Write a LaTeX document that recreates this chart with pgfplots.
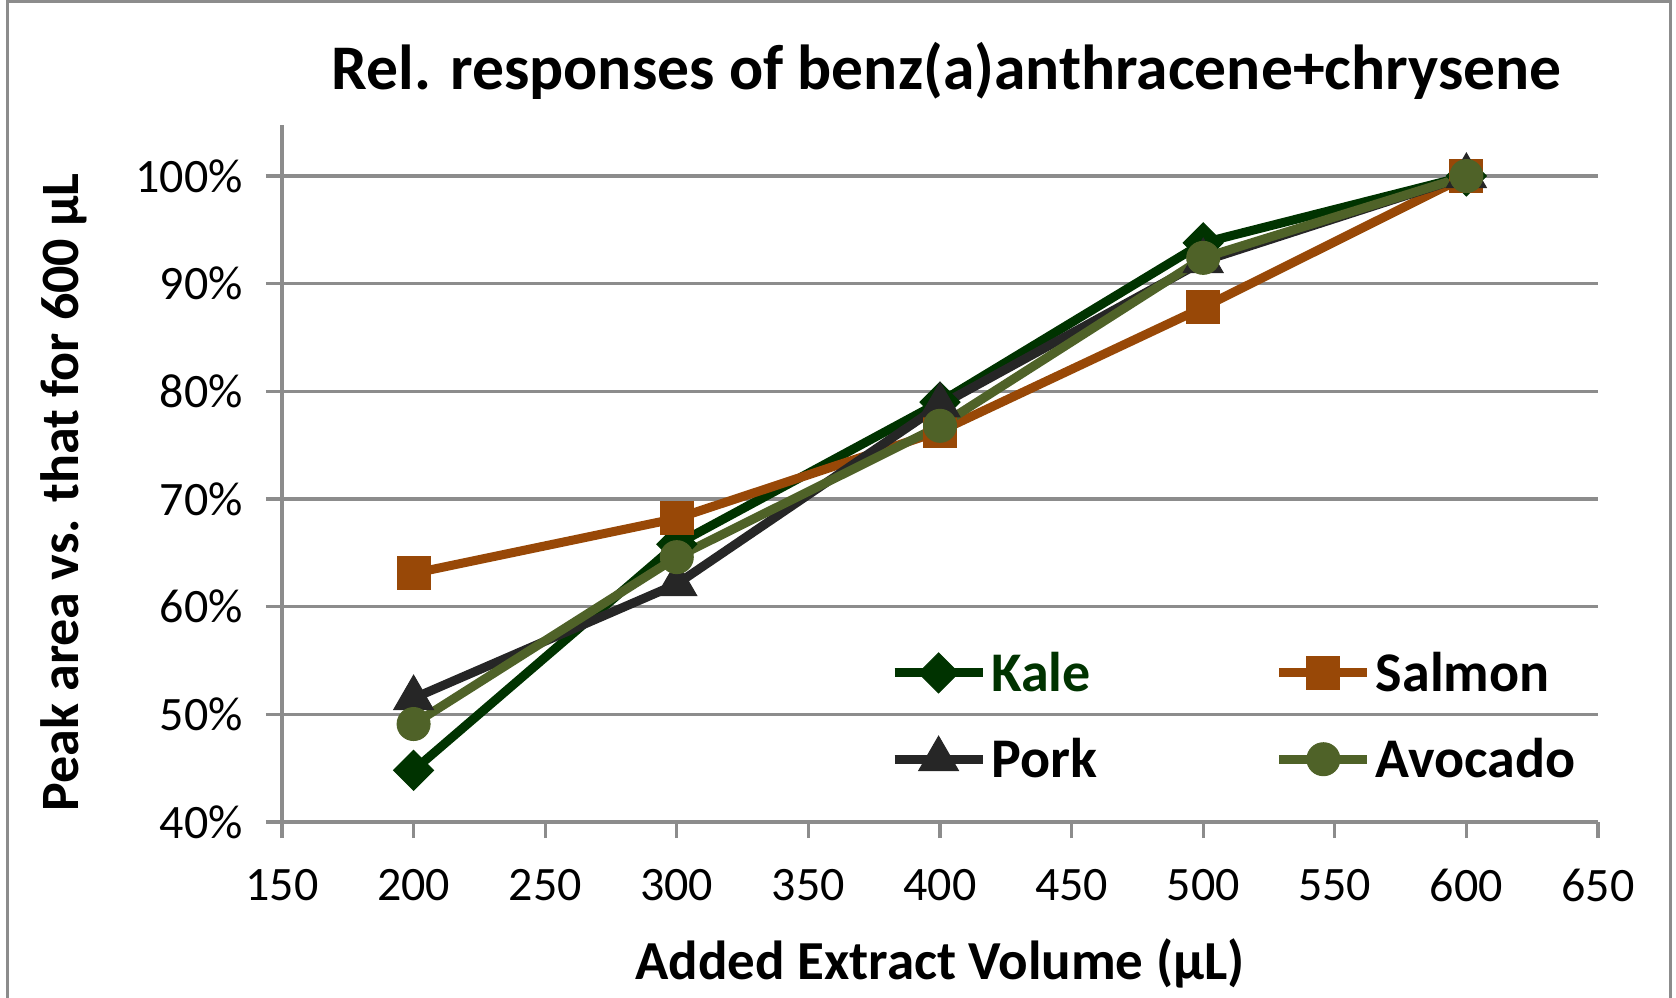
\documentclass[border=0pt]{standalone}
\usepackage{pgfplots}
\pgfplotsset{compat=1.18}
\usepackage{fontspec}
\setmainfont{Carlito}
\definecolor{kale}{HTML}{003300}
\definecolor{salmon}{HTML}{984807}
\definecolor{pork}{HTML}{262626}
\definecolor{avocado}{HTML}{4F6228}
\definecolor{gridgray}{HTML}{8C8C8C}
\begin{document}
\begin{tikzpicture}
\path[use as bounding box] (-141pt,-87.5pt) rectangle (697pt,411pt);
\begin{axis}[
  at={(0,0)}, anchor=south west,
  scale only axis,
  width=658pt, height=348.5pt,
  xmin=150, xmax=650, ymin=40, ymax=104.74,
  axis x line=bottom, axis y line=left,
  axis line style={gridgray, line width=1.6pt, -},
  xtick={150,200,...,650},
  ytick={40,50,...,100},
  yticklabel={\pgfmathprintnumber{\tick}\%},
  /pgf/number format/assume math mode=true,
  tick align=outside,
  major tick length=8pt,
  tick style={gridgray, line width=1.6pt},
  ymajorgrids,
  grid style={gridgray, line width=1.6pt},
  ticklabel style={font=\fontsize{24}{28}\selectfont, text=black},
  xticklabel style={yshift=-12pt},
  yticklabel style={xshift=-8pt},
  title={\textbf{Rel. responses of benz(a)anthracene+chrysene}},
  title style={font=\fontsize{31.8}{36}\selectfont, at={(axis description cs:0.505,1.061)}, anchor=center},
  xlabel={\textbf{Added Extract Volume (µL)}},
  xlabel style={font=\fontsize{27.5}{32}\selectfont, at={(axis description cs:0.5,-0.203)}, anchor=center},
  ylabel={\textbf{Peak area vs. that for 600 µL}},
  ylabel style={font=\fontsize{27}{32}\selectfont, at={(axis description cs:-0.166,0.473)}, anchor=center},
  legend columns=2,
  legend cell align=left,
  legend style={at={(axis description cs:0.724,0.152)}, anchor=center, draw=none, fill=none,
    font=\fontsize{28}{32}\selectfont\bfseries,
    /tikz/every even column/.append style={column sep=87pt},
    row sep=18pt},
  legend image code/.code={\draw[mark repeat=2,mark phase=2,#1] plot coordinates {(0pt,0pt) (22pt,0pt) (44pt,0pt)};},
  every axis plot/.append style={line width=4.5pt},
]
\addplot[color=kale, mark=square*, mark size=7.07pt, mark options={rotate=45, line width=0.5pt}]
  coordinates {(200,44.8) (300,65.8) (400,79.0) (500,93.8) (600,100)};
\addlegendentry{\textcolor{kale}{Kale}}
\addplot[color=salmon, mark=square*, mark size=8.25pt, mark options={line width=0.5pt}]
  coordinates {(200,63.1) (300,68.2) (400,76.3) (500,87.8) (600,100)};
\addlegendentry{Salmon}
\addplot[color=pork, mark=triangle*, mark size=11.5pt, mark options={line width=0.5pt}]
  coordinates {(200,51.5) (300,62.1) (400,78.7) (500,92.1) (600,100)};
\addlegendentry{Pork}
\addplot[color=avocado, mark=*, mark size=8.25pt, mark options={line width=0.5pt}]
  coordinates {(200,49.1) (300,64.6) (400,76.8) (500,92.4) (600,100)};
\addlegendentry{Avocado}
\end{axis}
\draw[gridgray, line width=1.5pt] (-137pt,-95pt) -- (-137pt,410pt) -- (694pt,410pt) -- (694pt,-95pt);
\end{tikzpicture}
\end{document}
